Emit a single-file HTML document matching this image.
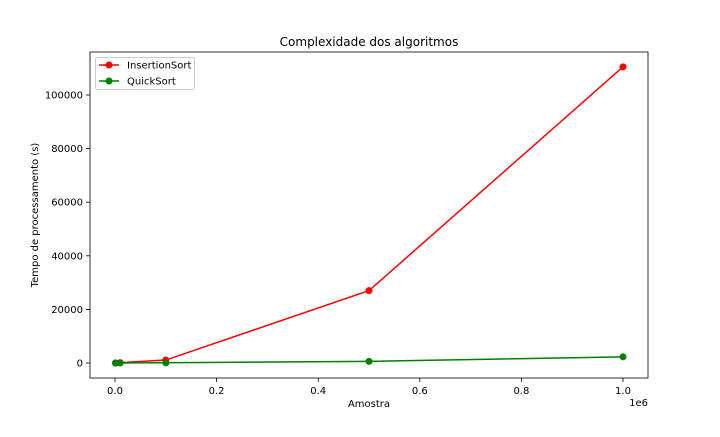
<!DOCTYPE html>
<html><head><style>
body{margin:0;background:#fff;font-family:"Liberation Sans","DejaVu Sans",sans-serif;}
svg text{font-family:"DejaVu Sans","Liberation Sans",sans-serif;}
</style></head><body>
<svg id="c" width="720" height="432"></svg>
<script>
const xs=[1000,10000,100000,500000,1000000];
const insertion=[10,120,1100,27000,110500];
const quick=[5,20,100,600,2300];
const xTicks=[0,0.2,0.4,0.6,0.8,1.0];
const yTicks=[0,20000,40000,60000,80000,100000];
const svg=document.getElementById('c');const NS='http://www.w3.org/2000/svg';
function el(t,a,p){const e=document.createElementNS(NS,t);for(const k in a)e.setAttribute(k,a[k]);(p||svg).appendChild(e);return e;}
const L=90,R=648,T=52,B=378;
const sx=v=>115+v/1e6*508;
const sy=v=>363-v/100000*268;
let e;
e=el('text',{x:369,y:46,'text-anchor':'middle','font-size':12});e.textContent='Complexidade dos algoritmos';

xTicks.forEach(t=>{const x=sx(t*1e6);el('line',{x1:x,x2:x,y1:B,y2:B+4,stroke:'#000','stroke-width':0.8});
e=el('text',{x:x,y:B+16,'text-anchor':'middle','font-size':10});e.textContent=t.toFixed(1);
});
yTicks.forEach(t=>{const y=sy(t);el('line',{x1:L-4,x2:L,y1:y,y2:y,stroke:'#000','stroke-width':0.8});
e=el('text',{x:L-7,y:y+3.5,'text-anchor':'end','font-size':10});e.textContent=t;
});
e=el('text',{x:369,y:407,'text-anchor':'middle','font-size':10});e.textContent='Amostra';

e=el('text',{x:648,y:406,'text-anchor':'end','font-size':10});e.textContent='1e6';

e=el('text',{x:38,y:215,'text-anchor':'middle','font-size':10,transform:'rotate(-90 38 215)'});e.textContent='Tempo de processamento (s)';

function series(vals,color,name){
 const g=el('g',{});
 el('polyline',{points:xs.map((x,i)=>sx(x)+','+sy(vals[i])).join(' '),fill:'none',stroke:color,'stroke-width':1.5},g);
 xs.forEach((x,i)=>{const c=el('circle',{cx:sx(x),cy:sy(vals[i]),r:3.5,fill:color},g);
 });
}
series(insertion,'#ff0000','insertion-sort-series');
series(quick,'#008000','quick-sort-series');
el('rect',{x:L,y:T,width:R-L,height:B-T,fill:'none',stroke:'#000','stroke-width':0.8});
const lg=el('g',{});
el('rect',{x:95.5,y:57.5,width:99,height:32,rx:2,fill:'#fff',stroke:'#ccc'},lg);
[['InsertionSort','#ff0000',65],['QuickSort','#008000',81]].forEach(([n,c,y])=>{
 el('line',{x1:99,x2:119,y1:y,y2:y,stroke:c,'stroke-width':1.5},lg);
 el('circle',{cx:109,cy:y,r:3.5,fill:c},lg);
 const t=el('text',{x:127,y:y+3.5,'font-size':10},lg);t.textContent=n;
 
});
</script>
</body></html>
